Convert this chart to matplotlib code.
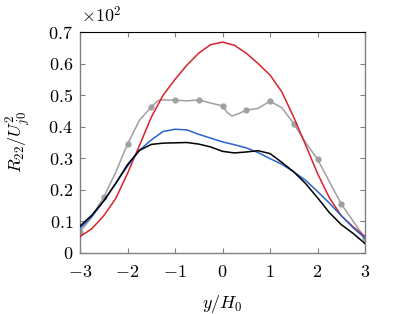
import numpy as np
import matplotlib
matplotlib.use("Agg")
from matplotlib import pyplot as plt
from matplotlib.ticker import FuncFormatter, MultipleLocator

plt.rcParams['mathtext.fontset'] = 'cm'
plt.rcParams['font.family'] = 'serif'
plt.rcParams['font.serif'] = ['cmr10']
plt.rcParams['axes.formatter.use_mathtext'] = True

# profiles, y/H0 from -3 to 3
x_q = [-3, -2.75, -2.5, -2.25, -2, -1.75, -1.5, -1.25, -1, -0.75, -0.5, -0.25, 0,
       0.25, 0.5, 0.75, 1, 1.25, 1.5, 1.75, 2, 2.25, 2.5, 2.75, 3]
red = [0.052, 0.077, 0.118, 0.172, 0.252, 0.34, 0.43, 0.50, 0.55, 0.595, 0.633, 0.66, 0.668,
       0.658, 0.633, 0.60, 0.564, 0.51, 0.43, 0.342, 0.252, 0.175, 0.118, 0.083, 0.052]
blue = [0.078, 0.115, 0.165, 0.22, 0.275, 0.325, 0.358, 0.385, 0.392, 0.39, 0.376, 0.364, 0.352,
        0.343, 0.333, 0.318, 0.299, 0.281, 0.257, 0.23, 0.195, 0.158, 0.118, 0.08, 0.047]
black = [0.085, 0.12, 0.165, 0.22, 0.28, 0.325, 0.344, 0.348, 0.349, 0.35, 0.345, 0.336, 0.322,
         0.317, 0.32, 0.324, 0.315, 0.287, 0.257, 0.22, 0.175, 0.128, 0.09, 0.062, 0.03]

gray_x = [-3, -2.75, -2.5, -2.25, -2, -1.75, -1.5, -1.35, -1.25, -1, -0.75, -0.5, -0.25, 0,
          0.1, 0.2, 0.35, 0.5, 0.75, 1, 1.25, 1.5, 1.75, 2, 2.5, 3]
gray = [0.066, 0.115, 0.177, 0.255, 0.345, 0.42, 0.463, 0.483, 0.485, 0.484, 0.482, 0.485, 0.475, 0.466,
        0.445, 0.434, 0.442, 0.453, 0.458, 0.481, 0.46, 0.41, 0.35, 0.297, 0.155, 0.047]
gray_marks = [i for i, v in enumerate(gray_x) if (v * 2) % 1 == 0]

fig = plt.figure(figsize=(3.99, 3.14), dpi=100)
ax = fig.add_axes([0.2005, 0.1943, 0.7143, 0.7037])

ax.plot(x_q, red, color='#d8232a', lw=1.1, zorder=3)
ax.plot(gray_x, gray, color='#a0a0a0', lw=1.1, marker='o', ms=3.5,
        markevery=gray_marks, zorder=2)
ax.plot(x_q, blue, color='#2a62d2', lw=1.1, zorder=3)
ax.plot(x_q, black, color='black', lw=1.1, zorder=4)

ax.set_xlim(-3, 3)
ax.set_ylim(0, 0.7)
ax.xaxis.set_major_locator(MultipleLocator(1))
ax.yaxis.set_major_locator(MultipleLocator(0.1))
ax.xaxis.set_major_formatter(FuncFormatter(lambda v, p: r'$%g$' % round(v, 2)))
ax.yaxis.set_major_formatter(FuncFormatter(lambda v, p: r'$%g$' % round(v, 2)))
ax.tick_params(direction='in', length=3.5, width=0.8, color='#808080',
               top=True, right=True, labelsize=13, pad=5)
ax.tick_params(axis='x', pad=8)

for side in ['left', 'bottom', 'right']:
    ax.spines[side].set_color('#808080')
    ax.spines[side].set_linewidth(1.0)
ax.spines['top'].set_color('black')
ax.spines['top'].set_linewidth(0.8)

ax.text(0.005, 1.03, r'$\times 10^2$', transform=ax.transAxes, ha='left', va='bottom', fontsize=13)
ax.set_xlabel(r'$y/H_0$', fontsize=13, labelpad=9)
ax.set_ylabel(r'$R_{22}/U_{j0}^2$', fontsize=13, labelpad=11)

fig.savefig('out.png', dpi=100)
